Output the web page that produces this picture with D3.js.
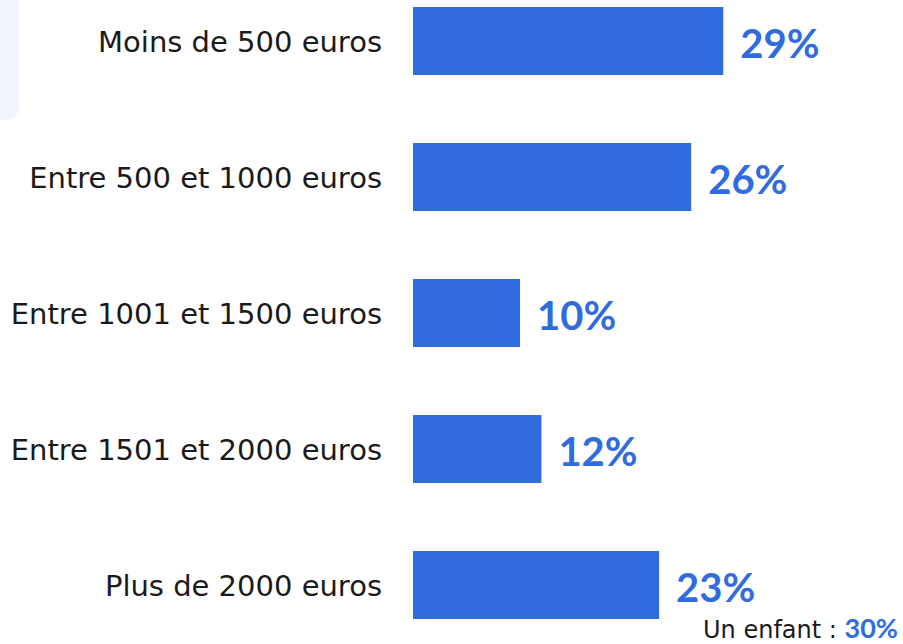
<!DOCTYPE html>
<html>
<head>
<meta charset="utf-8">
<script src="https://cdn.jsdelivr.net/npm/d3@7"></script>
<style>
  body { margin: 0; background: #fff; }
  svg { display: block; }
</style>
</head>
<body>
<div id="chart"></div>
<script>
const categories = [
    "Moins de 500 euros",
    "Entre 500 et 1000 euros",
    "Entre 1001 et 1500 euros",
    "Entre 1501 et 2000 euros",
    "Plus de 2000 euros"
];
const values = [29, 26, 10, 12, 23];
const footLabel = "Un enfant : ";
const footValue = "30%";

const width = 903,
    height = 644,
    barLeft = 413,
    blue = "#316CDF",
    labelFont = "'DejaVu Sans', sans-serif",
    valueFont = "Lato, 'Open Sans', sans-serif";

const data = categories.map((c, i) => ({cat: c, value: values[i]}));

const svg = d3.select("#chart")
    .append("svg")
    .attr("width", width)
    .attr("height", height);

// light panel in the corner
svg.append("path")
    .attr("d", "M0,0 H19 V105 Q19,120 4,120 H0 Z")
    .attr("fill", "#F0F5FE");

var xScale = d3.scaleLinear().domain([0, 30]).range([0, 321]);
var yScale = d3.scaleBand()
    .domain(categories)
    .range([-27, 653])
    .paddingInner(0.5)
    .paddingOuter(0.25);

var rows = svg.selectAll(".row")
    .data(data)
    .enter().append("g")
    .attr("class", "row")
    .attr("transform", d => `translate(0,${yScale(d.cat)})`);

rows.append("rect")
    .attr("x", barLeft)
    .attr("y", 0)
    .attr("width", d => xScale(d.value))
    .attr("height", yScale.bandwidth())
    .attr("fill", blue);

rows.append("text")
    .attr("x", 382)
    .attr("y", yScale.bandwidth() / 2 + 11)
    .attr("text-anchor", "end")
    .attr("font-family", labelFont)
    .attr("font-size", 29)
    .attr("fill", "#1a1a1a")
    .text(d => d.cat);

rows.append("text")
    .attr("x", d => barLeft + xScale(d.value) + 17)
    .attr("y", yScale.bandwidth() / 2 + 17)
    .attr("font-family", valueFont)
    .attr("font-size", 40)
    .attr("font-weight", "bold")
    .attr("fill", blue)
    .text(d => d.value + "%");

// footnote
var foot = svg.append("text")
    .attr("x", 898)
    .attr("y", 638)
    .attr("text-anchor", "end")
    .attr("font-size", 24)
    .attr("fill", "#1a1a1a");
foot.append("tspan").attr("font-family", labelFont).text(footLabel);
foot.append("tspan")
    .attr("font-family", valueFont)
    .attr("font-size", 27)
    .attr("font-weight", "bold")
    .attr("fill", blue)
    .text(footValue);
</script>
</body>
</html>
